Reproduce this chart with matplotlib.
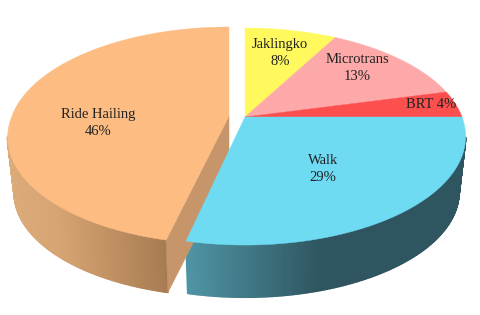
import numpy as np
import matplotlib
matplotlib.use("Agg")
import matplotlib.pyplot as plt
from matplotlib.patches import Polygon
from matplotlib.collections import PolyCollection
from matplotlib.colors import to_rgb

modes = ["Jaklingko", "Microtrans", "BRT", "Walk", "Ride Hailing"]
shares = [8, 13, 4, 28.6, 46.4]
colors = ["#fff95e", "#fea9a9", "#fe4f4f", "#6fdbf3", "#fcbc82"]
# where each label goes, in picture pixels
label_xy = [(280, 53), (357, 68), (431, 105), (323, 169), (98, 123)]

# pie projection, in picture pixels
cx, cy = 245, 117
radius = 217
height = 105
persp = 0.18
depth = 56
shrink = 0.97
explode = {"Ride Hailing": (-16, -1)}
front_shift = 4  # pulled out slice leans a bit further left towards the viewer

# side wall gradients: x stops and colours
walk_x = [187, 320]
walk_c = ["#5095a6", "#2f5660"]
ride_x = [8, 60, 166]
ride_c = ["#dcab7a", "#d6a472", "#a87c52"]
cut_color = "#c6966a"


def rim(theta, dx=0, dy=0, lower=False):
    u, v = np.sin(theta), np.cos(theta)
    w = 1 + persp * v
    x, y = radius * u / w, -height * v / w
    if dx:
        x = x + front_shift * np.minimum(v, 0)
    if lower:
        return cx + dx + shrink * x, cy + dy + shrink * y + depth
    return cx + dx + x, cy + dy + y


def wall(ax, t0, t1, stops, cols, dx=0, dy=0):
    ts = np.linspace(t0, t1, 160)
    xt, yt = rim(ts, dx, dy)
    xb, yb = rim(ts, dx, dy, lower=True)
    rgb = np.array([to_rgb(c) for c in cols])
    quads, fc = [], []
    for i in range(len(ts) - 1):
        quads.append([(xt[i], yt[i]), (xt[i + 1], yt[i + 1]), (xb[i + 1], yb[i + 1]), (xb[i], yb[i])])
        xm = (xt[i] + xb[i]) / 2
        fc.append([np.interp(xm, stops, rgb[:, k]) for k in range(3)])
    ax.add_collection(PolyCollection(quads, facecolors=fc, edgecolors=fc, linewidths=1.2))


fig = plt.figure(figsize=(4.8, 3.15), dpi=100)
ax = fig.add_axes([0, 0, 1, 1])
ax.set_xlim(0, 480)
ax.set_ylim(315, 0)
ax.axis("off")

edges = np.cumsum([0] + shares) / sum(shares) * 2 * np.pi

# walls first, top faces go over them
wall(ax, 0.56 * np.pi, edges[4], walk_x, walk_c)
dx, dy = explode["Ride Hailing"]
wall(ax, edges[4], 1.44 * np.pi, ride_x, ride_c, dx, dy)

# cut face of the pulled out slice
tip_top = rim(edges[4], dx, dy)
tip_low = rim(edges[4], dx, dy, lower=True)
ax.add_patch(Polygon([(cx + dx, cy + dy), tip_top, tip_low, (cx + dx, cy + dy + depth)],
                     closed=True, facecolor=cut_color, edgecolor=cut_color, linewidth=0.4))

for i, mode in enumerate(modes):
    off = explode.get(mode, (0, 0))
    ts = np.linspace(edges[i], edges[i + 1], 150)
    xs, ys = rim(ts, *off)
    pts = [(cx + off[0], cy + off[1])] + list(zip(xs, ys))
    ax.add_patch(Polygon(pts, closed=True, facecolor=colors[i], edgecolor=colors[i], linewidth=0.3))

for i, mode in enumerate(modes):
    sep = " " if mode == "BRT" else "\n"
    ax.text(label_xy[i][0], label_xy[i][1], f"{mode}{sep}{shares[i]:.0f}%",
            family="Liberation Serif", fontsize=10.5, color="#222222",
            ha="center", va="center", linespacing=1.38, multialignment="center")

fig.savefig("out.png", dpi=100)
